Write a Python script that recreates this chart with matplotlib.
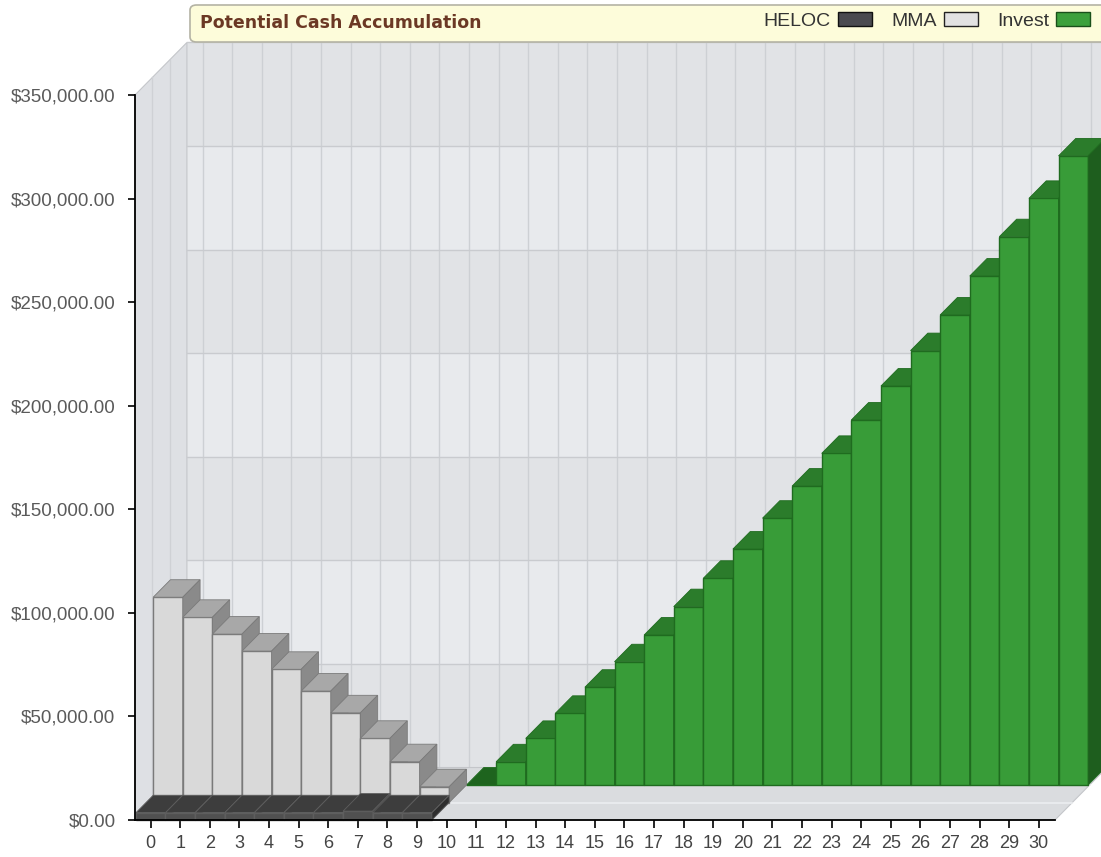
import matplotlib
matplotlib.use("Agg")
import matplotlib.pyplot as plt
from matplotlib.patches import Polygon, Patch, FancyBboxPatch

# ---------------- data ----------------
categories = list(range(31))
heloc = [3500, 3500, 3500, 3500, 3500, 3500, 3500, 4300, 3500, 3500] + [None] * 21
mma = [99100, 89400, 81300, 73100, 64300, 53800, 43300, 31000, 19700, 7600] + [None] * 21
invest = [None] * 10 + [0, 11200, 22500, 34600, 47200, 59500, 72400, 86100, 99800,
                        113900, 128800, 144300, 160100, 176200, 192600, 209700,
                        226900, 245700, 264700, 283200, 303700]
series_names = ["HELOC", "MMA", "Invest"]
y_ticks = [0, 50000, 100000, 150000, 200000, 250000, 300000, 350000]
y_tick_labels = ["$0.00", "$50,000.00", "$100,000.00", "$150,000.00", "$200,000.00",
                 "$250,000.00", "$300,000.00", "$350,000.00"]
title = "Potential Cash Accumulation"

# ---------------- styles ----------------
styles = {
    "HELOC": dict(front="#505050", top="#3d3d3d", side="#2e2e2e", edge="#5e5e5e", flat="#3d3d3d"),
    "MMA": dict(front="#d9d9d9", top="#a8a8a8", side="#8a8a8a", edge="#7a7a7a", flat="#a8a8a8"),
    "Invest": dict(front="#389c38", top="#2b7c2b", side="#1e5e1e", edge="#1f6b1f", flat="#1e641e"),
}

W, H, DPI = 1101, 857, 100
fig = plt.figure(figsize=(W / DPI, H / DPI), dpi=DPI)
fig.patch.set_facecolor("white")

L, R, B, T = 135, 1055, 820, 95
ax = fig.add_axes([L / W, (H - B) / H, (R - L) / W, (B - T) / H])
XMIN, XMAX = -0.53, 30.55
YMAX = 350000
ax.set_xlim(XMIN, XMAX)
ax.set_ylim(0, YMAX)
ax.patch.set_visible(False)

px_x = (R - L) / (XMAX - XMIN)
px_y = (B - T) / YMAX
DX = 17.3 / px_x
DY = 17.5 / px_y
NROWS = 3
BX, BY = NROWS * DX, NROWS * DY


def poly(pts, fc, ec="none", lw=0.0, z=1.0):
    p = Polygon(pts, closed=True, facecolor=fc, edgecolor=ec, linewidth=lw,
                zorder=z, clip_on=False, joinstyle="miter")
    ax.add_patch(p)
    return p


# ---- back wall with alternating bands ----
band_light, band_dark = "#e8eaed", "#e1e3e6"
for k in range(len(y_ticks) - 1):
    y0, y1 = y_ticks[k], y_ticks[k + 1]
    col = band_light if (k % 2 == 1) else band_dark
    poly([(XMIN + BX, y0 + BY), (XMAX + BX + 1, y0 + BY),
          (XMAX + BX + 1, y1 + BY), (XMIN + BX, y1 + BY)], col, z=0.5)
for c in categories + [31]:
    ax.plot([c + BX, c + BX], [BY, YMAX + BY], color="#cdd0d4", lw=1.0,
            zorder=0.8, clip_on=False)
for yv in y_ticks[1:]:
    ax.plot([XMIN + BX, XMAX + BX + 1], [yv + BY, yv + BY], color="#c9cbcf",
            lw=1.0, zorder=0.8, clip_on=False)

# ---- left side wall ----
poly([(XMIN, 0), (XMIN + BX, BY), (XMIN + BX, YMAX + BY), (XMIN, YMAX)],
     "#dee0e4", ec="#c4c6ca", lw=0.8, z=0.6)
for r in range(1, NROWS):
    ax.plot([XMIN + r * DX, XMIN + r * DX], [r * DY, YMAX + r * DY],
            color="#cfd1d5", lw=1.0, zorder=0.7, clip_on=False)

# ---- floor ----
poly([(XMIN, 0), (XMAX, 0), (XMAX + BX, BY), (XMIN + BX, BY)],
     "#dadcdf", ec="#c4c6ca", lw=0.8, z=0.9)
for r in range(1, NROWS):
    ax.plot([XMIN + r * DX, XMAX + r * DX], [r * DY, r * DY],
            color="#eceef0", lw=1.2, zorder=0.95, clip_on=False)


# ---- 3D bars ----
def draw_series(values, row, st, zbase):
    xs, hs = [], []
    for c, v in zip(categories, values):
        if v is None:
            continue
        xs.append(c + row * DX)
        hs.append(v)
    bars = ax.bar(xs, hs, width=1.0, bottom=row * DY, color=st["front"],
                  edgecolor=st["edge"], linewidth=1.0, clip_on=False)
    for i, (bar, x, h) in enumerate(zip(bars, xs, hs)):
        z = zbase + i * 0.01
        bar.set_zorder(z)
        xl, xr = x - 0.5, x + 0.5
        yb, yt = row * DY, row * DY + h
        topc = st["top"] if h > 0 else st["flat"]
        poly([(xl, yt), (xr, yt), (xr + DX, yt + DY), (xl + DX, yt + DY)],
             topc, ec=st["edge"], lw=0.6, z=z + 0.001)
        if h > 0:
            poly([(xr, yb), (xr + DX, yb + DY), (xr + DX, yt + DY), (xr, yt)],
                 st["side"], ec=st["edge"], lw=0.6, z=z + 0.002)


draw_series(invest, 2, styles["Invest"], 3.0)
draw_series(mma, 1, styles["MMA"], 4.0)
draw_series(heloc, 0, styles["HELOC"], 5.0)

# ---- axes ----
for s in ["top", "right"]:
    ax.spines[s].set_visible(False)
for s in ["left", "bottom"]:
    ax.spines[s].set_color("black")
    ax.spines[s].set_linewidth(1.3)
    ax.spines[s].set_zorder(10)

ax.set_yticks(y_ticks)
ax.set_yticklabels(y_tick_labels)
ax.set_xticks(categories)
ax.set_xticklabels([str(c) for c in categories])
ax.tick_params(axis="y", direction="out", length=5, width=1.2, color="black",
               labelsize=13.5, labelcolor="#5a5a5a", pad=9)
ax.tick_params(axis="x", direction="out", length=6, width=1.2, color="black",
               labelsize=13, labelcolor="#444444", pad=5)
for lab in ax.get_xticklabels() + ax.get_yticklabels():
    lab.set_fontfamily("Liberation Sans")

# ---- header ----
hdr = FancyBboxPatch((190 / W, 1 - 42 / H), (W - 190 + 20) / W, 37 / H,
                     boxstyle="round,pad=0,rounding_size=0.006",
                     transform=fig.transFigure, facecolor="#fdfcda",
                     edgecolor="#b4b3a4", linewidth=1.2, zorder=20)
fig.add_artist(hdr)
fig.text(200 / W, 1 - 23 / H, title, transform=fig.transFigure, ha="left",
         va="center", fontsize=12.5, fontweight="bold", color="#6b3824",
         family="DejaVu Sans", zorder=21)

handles = [
    Patch(facecolor="#4a4a50", edgecolor="#111111", linewidth=1.0),
    Patch(facecolor="#e2e2e2", edgecolor="#222222", linewidth=1.0),
    Patch(facecolor="#3ca03c", edgecolor="#1a4f1a", linewidth=1.0),
]
leg = fig.legend(handles, series_names, ncol=3, markerfirst=False, frameon=False,
                 loc="center right", bbox_to_anchor=(1090 / W, 1 - 21 / H),
                 bbox_transform=fig.transFigure,
                 prop={"family": "Liberation Sans", "size": 14},
                 handlelength=1.75, handleheight=0.75, handletextpad=0.35,
                 columnspacing=1.0, borderpad=0, borderaxespad=0)
leg.set_zorder(22)
for t in leg.get_texts():
    t.set_color("#333333")

fig.savefig("out.png", dpi=DPI, facecolor="white")
